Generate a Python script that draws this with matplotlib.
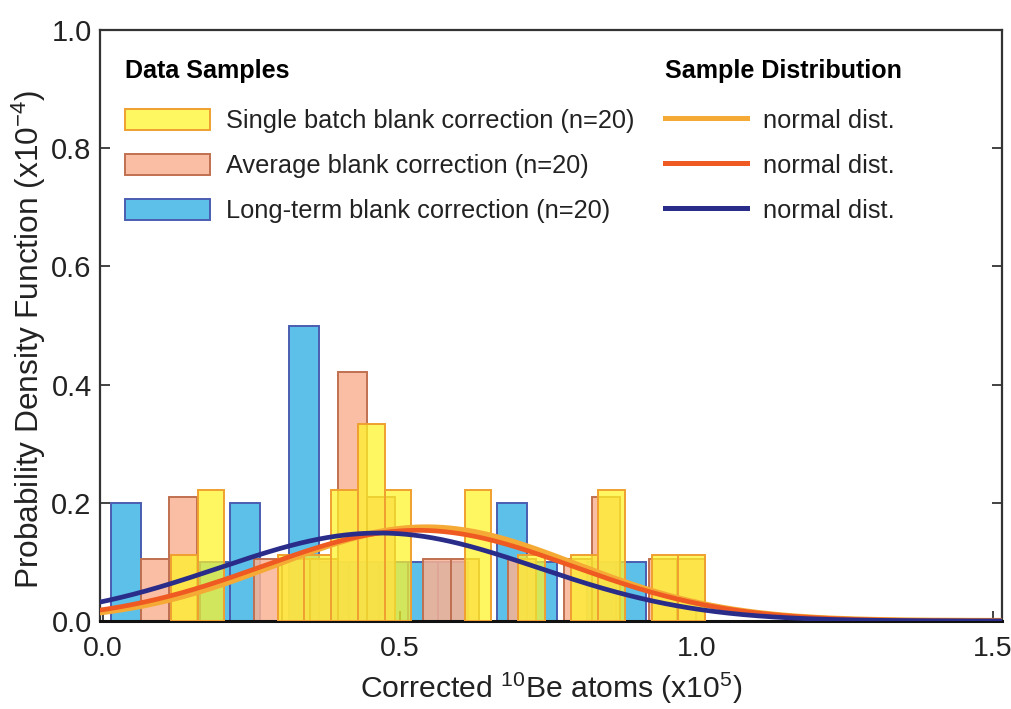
import numpy as np
import matplotlib
matplotlib.use("Agg")
import matplotlib.pyplot as plt
from matplotlib.patches import Patch
from matplotlib.lines import Line2D

plt.rcParams["font.family"] = ["Liberation Sans", "DejaVu Sans"]
plt.rcParams["mathtext.fontset"] = "custom"
plt.rcParams["mathtext.rm"] = "Liberation Sans"
plt.rcParams["mathtext.it"] = "Liberation Sans:italic"
plt.rcParams["mathtext.bf"] = "Liberation Sans:bold"

# Histogram bins (x10^5 atoms) and per-bin sample counts, n = 20 each
n_samples = 20
single_range = (0.1146, 1.0145)
single_counts = [1, 2, 0, 0, 1, 1, 2, 3, 2, 0, 0, 2, 0, 1, 0, 1, 2, 0, 1, 1]
average_range = (0.064, 1.0145)
average_counts = [1, 2, 0, 0, 1, 1, 1, 4, 2, 0, 1, 1, 0, 1, 0, 1, 2, 0, 1, 1]
longterm_range = (0.0135, 1.0155)
longterm_counts = [2, 0, 0, 1, 2, 0, 5, 1, 1, 1, 1, 1, 0, 2, 1, 0, 1, 1, 0, 0]

# Fitted normal distributions (mean, std) in x10^5 atoms
single_fit = (0.545, 0.252)
average_fit = (0.530, 0.260)
longterm_fit = (0.465, 0.268)

labels_data = ["Single batch blank correction (n=20)",
               "Average blank correction (n=20)",
               "Long-term blank correction (n=20)"]
label_fit = "normal dist."

fig = plt.figure(figsize=(10.11, 7.09), dpi=100)
ax = fig.add_axes([100 / 1011, 88 / 709, 902 / 1011, 591 / 709])


def draw_hist(rng, counts, face, edge, z):
    counts = np.asarray(counts, dtype=float)
    edges = np.linspace(rng[0], rng[1], len(counts) + 1)
    width = edges[1] - edges[0]
    # density per atom expressed in units of 1e-4 with x in units of 1e5
    dens = counts / (n_samples * width * 10.0)
    keep = counts > 0
    ax.bar(edges[:-1][keep], dens[keep], width=width, align="edge",
           facecolor=face, edgecolor=edge, linewidth=1.4, zorder=z)


c_single_face = (1.0, 0.96, 0.15, 0.72)
c_single_edge = "#F0A030"
c_avg_face = (0.98, 0.70, 0.58, 0.85)
c_avg_edge = "#C07050"
c_lt_face = (0.33, 0.74, 0.91, 0.95)
c_lt_edge = "#4A5DB0"

draw_hist(longterm_range, longterm_counts, c_lt_face, c_lt_edge, 1)
draw_hist(average_range, average_counts, c_avg_face, c_avg_edge, 2)
draw_hist(single_range, single_counts, c_single_face, c_single_edge, 3)

c_fit_single = "#F5AA35"
c_fit_avg = "#EE5A22"
c_fit_lt = "#2A2C8A"

xs = np.linspace(-0.01, 1.52, 600)


def pdf(x, mu, sd):
    return np.exp(-0.5 * ((x - mu) / sd) ** 2) / (sd * np.sqrt(2 * np.pi)) / 10.0


ax.plot(xs, pdf(xs, *single_fit), color=c_fit_single, lw=4.4, zorder=5,
        solid_capstyle="butt")
ax.plot(xs, pdf(xs, *average_fit), color=c_fit_avg, lw=3.4, zorder=6,
        solid_capstyle="butt")
ax.plot(xs, pdf(xs, *longterm_fit), color=c_fit_lt, lw=3.4, zorder=7,
        solid_capstyle="butt")

ax.set_xlim(-0.005, 1.515)
ax.set_ylim(0, 1.0)
ax.set_xticks([0.0, 0.5, 1.0, 1.5])
ax.set_xticklabels(["0.0", "0.5", "1.0", "1.5"])
ax.set_yticks([0.0, 0.2, 0.4, 0.6, 0.8, 1.0])
ax.set_yticklabels(["0.0", "0.2", "0.4", "0.6", "0.8", "1.0"])
ax.tick_params(axis="both", direction="in", length=7, width=1.2,
               labelsize=21, colors="#222222")
ax.tick_params(axis="y", right=True, pad=6)
ax.tick_params(axis="x", pad=11, labelsize=20.5)
for side in ["left", "right", "top", "bottom"]:
    ax.spines[side].set_linewidth(1.6)
    ax.spines[side].set_color("#333333")
ax.spines["bottom"].set_linewidth(2.2)
ax.spines["bottom"].set_color("#111111")

ax.set_xlabel(r"Corrected $^{10}$Be atoms (x10$^{5}$)", fontsize=21.7,
              color="#222222", labelpad=6)
ax.set_ylabel(r"Probability Density Function (x10$^{-4}$)", fontsize=22.8,
              color="#222222")
ax.yaxis.set_label_coords(-0.058, 0.477)

hist_handles = [Patch(facecolor=c_single_face, edgecolor=c_single_edge, lw=1.4),
                Patch(facecolor=c_avg_face, edgecolor=c_avg_edge, lw=1.4),
                Patch(facecolor=c_lt_face, edgecolor=c_lt_edge, lw=1.4)]
fit_handles = [Line2D([], [], color=c_fit_single, lw=3.6),
               Line2D([], [], color=c_fit_avg, lw=3.6),
               Line2D([], [], color=c_fit_lt, lw=3.6)]

legend_kw = dict(loc="upper left", frameon=False, fontsize=18.3,
                 alignment="left",
                 title_fontproperties={"weight": "bold", "size": 18.1},
                 handleheight=0.92, handletextpad=0.63,
                 labelspacing=0.81, borderpad=0, borderaxespad=0,
                 labelcolor="#222222")

leg1 = ax.legend(hist_handles, labels_data, title="Data Samples",
                 bbox_to_anchor=(0.0277, 0.9516), handlelength=3.35,
                 **legend_kw)
leg1._legend_box.sep = 18.7
ax.add_artist(leg1)
leg2 = ax.legend(fit_handles, [label_fit] * 3, title="Sample Distribution",
                 bbox_to_anchor=(0.6264, 0.9516), handlelength=3.23,
                 **legend_kw)
leg2._legend_box.sep = 18.7

fig.savefig("out.png", dpi=100)
